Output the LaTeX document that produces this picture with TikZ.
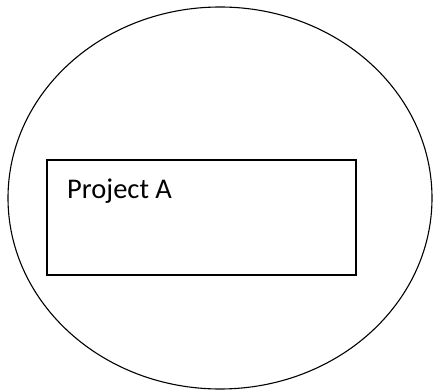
\documentclass[tikz,border=0pt]{standalone}
\usepackage{fontspec}
\setmainfont{Carlito}
\usepackage{tikz}
\usetikzlibrary{shapes.geometric}

\begin{document}
\begin{tikzpicture}[x=1pt,y=1pt]
\useasboundingbox (0,0) rectangle (433,391);
\node[draw=black,line width=1.1pt,ellipse,minimum width=424pt,minimum height=382pt,inner sep=0pt] (scope) at (220,193) {};
\node[draw=black,line width=1.3pt,minimum width=309pt,minimum height=115pt,inner sep=0pt] (proj) at (201.5,173.5) {};
\node[anchor=base west,font=\fontsize{28.5}{34}\selectfont,inner sep=0pt] (projname) at (67,192.5) {Project A};
\end{tikzpicture}
\end{document}
